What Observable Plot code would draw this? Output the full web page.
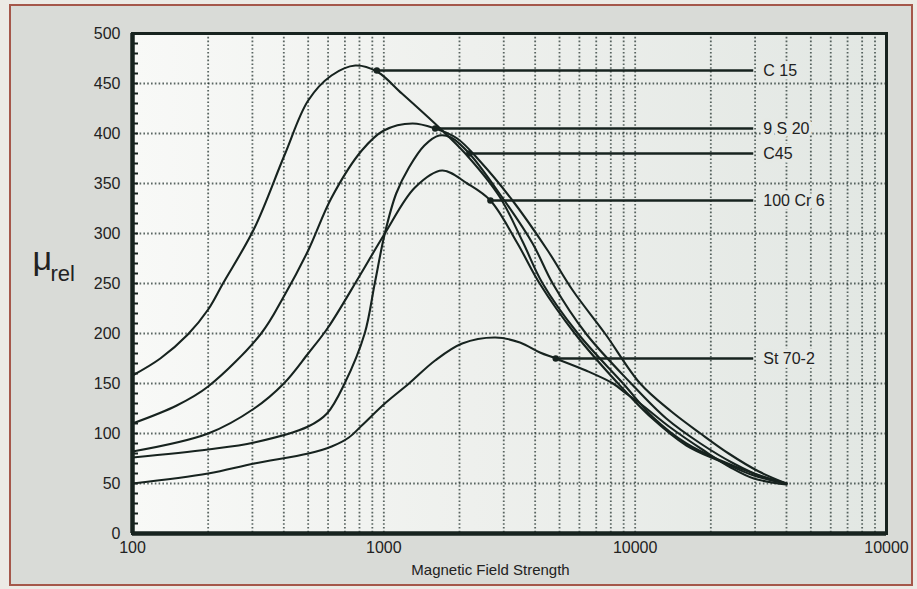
<!DOCTYPE html>
<html>
<head>
<meta charset="utf-8">
<script src="https://cdn.jsdelivr.net/npm/d3@7"></script>
<script src="https://cdn.jsdelivr.net/npm/@observablehq/plot@0.6"></script>
<style>
  html, body { margin: 0; padding: 0; width: 917px; height: 589px; overflow: hidden; background: #eceae5; }
  #border { position: absolute; left: 9px; top: 4px; width: 900px; height: 578px; border: 2px solid #a5574a; background: #d9dbd7; }
  #chart { position: absolute; left: 0; top: 0; }
</style>
</head>
<body>
<div id="border"></div>
<div id="chart"></div>
<script>
// ---- data ----
const c15 = [[100,158],[129,175],[166,199],[200,224],[229,250],[305,305],[402,378],[500,433],[619,458],[770,468],[938,462],[1180,440],[1660,406],[2109,380],[2884,337],[3565,292],[4285,250],[5916,200],[8954,150],[11803,116],[15996,90],[21878,73],[29648,60],[40000,50]];
const s9s20 = [[100,110],[150,128],[200,147],[325,200],[400,237],[500,283],[620,336],[817,383],[1000,403],[1300,410],[1600,405],[1959,395],[2399,373],[3251,333],[4487,283],[5649,243],[7586,200],[10471,150],[13932,122],[18197,100],[23550,80],[31050,62],[40000,50]];
const c45 = [[100,76],[200,84],[305,91],[500,107],[594,120],[698,150],[839,200],[920,250],[1009,300],[1120,340],[1259,366],[1450,388],[1660,398],[1850,396],[2188,380],[2884,340],[3908,290],[4699,250],[6368,200],[9638,150],[13300,115],[18197,90],[24660,70],[32509,56],[40000,50]];
const cr6 = [[100,82],[200,100],[305,125],[400,150],[500,180],[600,206],[794,256],[1009,300],[1330,346],[1706,363],[2148,350],[2655,333],[3404,290],[4169,250],[5754,200],[8551,150],[11588,116],[15996,88],[21878,72],[29648,58],[40000,50]];
const st70 = [[100,50],[200,60],[305,70],[501,80],[620,87],[726,96],[817,108],[1009,130],[1259,150],[1600,173],[2050,190],[2780,196],[3480,191],[4180,181],[4830,175],[6370,163],[8166,150],[9200,140],[10471,130],[13804,106],[18750,83],[23988,66],[29648,55],[40000,49]];

const seriesNames = ["C 15", "9 S 20", "C45", "100 Cr 6", "St 70-2"];
const seriesData = [c15, s9s20, c45, cr6, st70];

// label leader lines: where they leave the curve and where they end
const labelY    = [463, 405, 380, 333, 175];
const labelFrom = [938, 1600, 2188, 2655, 4830];
const labelTo   = [29500, 29500, 29500, 29500, 29500];

const xTicks = [100, 1000, 10000, 100000];
const xTickLabels = ["100", "1000", "10000", "10000"];
const yTicks = [0, 50, 100, 150, 200, 250, 300, 350, 400, 450, 500];
const gridX = [200,300,400,500,600,700,800,900,1000,2000,3000,4000,5000,6000,7000,8000,9000,10000,20000,30000,40000,50000,60000,70000,80000,90000];
const gridY = [50, 100, 150, 200, 250, 300, 350, 400, 450];
const minorY = d3.range(0, 501, 10);

const xTitle = "Magnetic Field Strength";

// ---- build ----
const lineRows = seriesData.flatMap((s, i) => s.map(([x, y]) => ({name: seriesNames[i], x, y})));
const labels = seriesNames.map((name, i) => ({name, y: labelY[i], from: labelFrom[i], to: labelTo[i]}));

const W = 917, H = 589, mL = 132, mR = 31, mT = 33, mB = 56;
const plotW = W - mL - mR;
const font = '"Liberation Sans Narrow", "Liberation Sans", Arial, Helvetica, sans-serif';
const ink = "#17231f";
const gridStyle = {stroke: "#1f2e29", strokeOpacity: 0.72, strokeWidth: 1.8, strokeDasharray: "1.6,2.2"};

const chart = Plot.plot({
  width: W, height: H,
  marginLeft: mL, marginRight: mR, marginTop: mT, marginBottom: mB,
  x: {type: "log", domain: [100, 100000], axis: null},
  y: {domain: [0, 500], axis: null},
  style: {background: "transparent", fontFamily: font, color: "#222"},
  marks: [
    Plot.frame({fill: "url(#plotbg)", stroke: null}),
    Plot.ruleX(gridX, gridStyle),
    Plot.ruleY(gridY, gridStyle),
    Plot.tickY(minorY, {insetRight: plotW - 6, stroke: ink, strokeWidth: 2}),
    Plot.line(lineRows, {x: "x", y: "y", z: "name", curve: "catmull-rom", stroke: ink, strokeWidth: 2.1}),
    Plot.link(labels, {x1: "from", x2: "to", y1: "y", y2: "y", stroke: ink, strokeWidth: 2.4}),
    Plot.dot(labels, {x: "from", y: "y", r: 3.2, fill: ink, stroke: null}),
    Plot.text(labels, {x: "to", y: "y", text: "name", textAnchor: "start", dx: 10, fontSize: 16, fill: "#222",
      stroke: "#e5e9e5", strokeWidth: 7, paintOrder: "stroke"}),
    Plot.frame({stroke: ink, strokeWidth: 3}),
    Plot.ruleX([100], {stroke: ink, strokeWidth: 4.5}),
    Plot.ruleY([0], {stroke: ink, strokeWidth: 4.5}),
    Plot.axisX(xTicks, {tickSize: 0, tickPadding: 8, fontSize: 16, tickFormat: (d) => xTickLabels[xTicks.indexOf(d)], label: null}),
    Plot.axisY(yTicks, {tickSize: 0, tickPadding: 12, fontSize: 16, label: null}),
    Plot.text([xTitle], {frameAnchor: "bottom", dy: 41, dx: -19, fontSize: 15, fill: "#222"}),
    Plot.text(["μ"], {frameAnchor: "left", textAnchor: "start", dx: -100, dy: -24, fontSize: 34, fill: "#222"}),
    Plot.text(["rel"], {frameAnchor: "left", textAnchor: "start", dx: -82, dy: -10, fontSize: 22, fill: "#222"})
  ]
});

// gradient fill for the plotting area
const ns = "http://www.w3.org/2000/svg";
const defs = document.createElementNS(ns, "defs");
defs.innerHTML = '<linearGradient id="plotbg" x1="0" x2="1" y1="0" y2="0">' +
  '<stop offset="0" stop-color="#f8f9f7"/><stop offset="0.45" stop-color="#eef0ed"/><stop offset="1" stop-color="#e2e7e3"/></linearGradient>';
chart.insertBefore(defs, chart.firstChild);

document.getElementById("chart").appendChild(chart);
</script>
</body>
</html>
